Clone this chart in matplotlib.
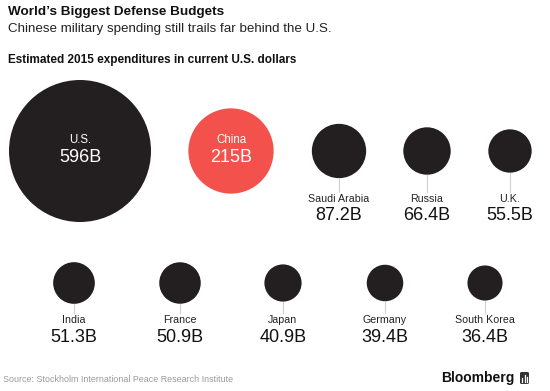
import numpy as np
import matplotlib.pyplot as plt
from matplotlib.patches import Circle, FancyBboxPatch

plt.rcParams['font.family'] = ['Liberation Sans', 'DejaVu Sans']

# Data
countries = ['U.S.', 'China', 'Saudi Arabia', 'Russia', 'U.K.',
             'India', 'France', 'Japan', 'Germany', 'South Korea']
spending = [596, 215, 87.2, 66.4, 55.5, 51.3, 50.9, 40.9, 39.4, 36.4]
highlight = 'China'

# Layout (pixel canvas, y downwards)
W, H = 550, 391
r_max = 71.0                      # radius of the largest bubble
row1_x = [80, 231, 339, 427, 510]
row2_x = [74, 180, 283, 385, 485]
row1_y, row2_y = 151, 283
dark = '#231f20'
red = '#f2524b'

fig = plt.figure(figsize=(W / 100, H / 100), dpi=100)
ax = fig.add_axes([0, 0, 1, 1])
ax.set_xlim(0, W)
ax.set_ylim(H, 0)
ax.set_aspect('equal')
ax.axis('off')

xs = row1_x + row2_x
ys = [row1_y] * 5 + [row2_y] * 5
radii = r_max * np.sqrt(np.array(spending) / max(spending))

for i, (name, val) in enumerate(zip(countries, spending)):
    x, y, r = xs[i], ys[i], radii[i]
    color = red if name == highlight else dark
    ax.add_patch(Circle((x, y), r, facecolor=color, edgecolor='none'))
    val_txt = f'{val:g}B'
    if i < 2:
        # label inside the big bubbles
        ax.text(x, y - 11, name, color='white', fontsize=8.3, ha='center', va='center')
        ax.text(x, y + 6, val_txt, color='white', fontsize=13, ha='center', va='center')
    else:
        name_y = 199 if i < 5 else 320
        ax.plot([x, x], [y + r, name_y - 7], color='#d0d0d0', lw=0.8)
        ax.text(x, name_y, name, color='#222222', fontsize=7.7, ha='center', va='center')
        ax.text(x, name_y + 17, val_txt, color='#111111', fontsize=13, ha='center', va='center')

# Titles
ax.text(8, 12, "World\u2019s Biggest Defense Budgets", fontsize=9.7, fontweight='bold',
        color='#111111', va='center')
ax.text(8, 29, 'Chinese military spending still trails far behind the U.S.', fontsize=9.6,
        color='#222222', va='center')
ax.text(8, 60, 'Estimated 2015 expenditures in current U.S. dollars', fontsize=8.5,
        fontweight='bold', color='#111111', va='center')

# Footer
ax.text(3, 379, 'Source: Stockholm International Peace Research Institute', fontsize=6.4,
        color='#9a9a9a', va='center')
ax.text(515, 378, 'Bloomberg', fontsize=10, fontweight='bold', color='#111111',
        ha='right', va='center')
ax.add_patch(FancyBboxPatch((520, 372), 9, 12, boxstyle='round,pad=0,rounding_size=1.5',
                            facecolor='#333333', edgecolor='none'))
for bx, bh in zip([522, 524.5, 527], [4, 7, 5]):
    ax.plot([bx, bx], [382, 382 - bh], color='white', lw=0.9)

fig.savefig('out.png', dpi=100, facecolor='white')
